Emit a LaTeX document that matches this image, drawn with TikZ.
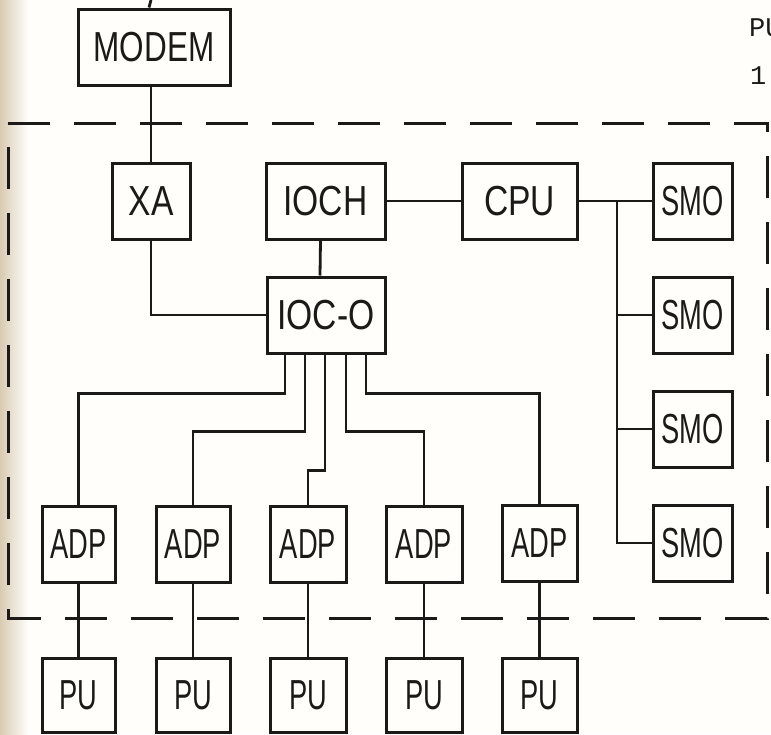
\documentclass[tikz,border=0pt]{standalone}
\usepackage{fontspec}
\setmainfont{Liberation Sans}
\newfontfamily\handfont[FakeStretch=0.8]{Liberation Sans}
\newfontfamily\narrowfont[FakeStretch=0.65]{Liberation Sans}
\newfontfamily\modemfont[FakeStretch=0.75]{Liberation Sans}
\newfontfamily\typefont{Liberation Mono}
\usetikzlibrary{calc}
\definecolor{ink}{HTML}{1C1A18}
\definecolor{paper}{HTML}{FFFEFB}
\definecolor{scan}{HTML}{D9CBB2}
\begin{document}
\begin{tikzpicture}[x=1pt,y=-1pt,
  box/.style={draw=ink,line width=3pt,rectangle,inner sep=0pt,
    font=\handfont\fontsize{42}{44}\selectfont,text=ink},
  narrowbox/.style={box,font=\narrowfont\fontsize{42}{44}\selectfont},
  wire/.style={draw=ink,line width=2.8pt},
  frame/.style={draw=ink,line width=3pt,dash pattern=on 42pt off 24pt},
  typed/.style={font=\typefont\fontsize{27}{29}\selectfont,text=ink,inner sep=0pt}]
\useasboundingbox (0,0) rectangle (771,734);
\fill[paper] (0,0) rectangle (771,734);
\shade[left color=scan,right color=paper] (0,0) rectangle (28,734);
\clip (0,0) rectangle (771,734);

% dashed enclosure
\draw[frame] (8,123) -- (767,123) -- (767,618) -- (8,618) -- cycle;

% boxes
\node[box,minimum width=152pt,minimum height=76pt,font=\modemfont\fontsize{42}{44}\selectfont] (MODEM) at (154,47) {MODEM};
\node[box,minimum width=78pt,minimum height=76pt] (XA) at (151,201) {XA};
\node[box,minimum width=119pt,minimum height=76pt] (IOCH) at (325.5,201) {IOCH};
\node[box,minimum width=115pt,minimum height=76pt] (CPU) at (519.5,201) {CPU};
\node[narrowbox,minimum width=79pt,minimum height=76pt] (SMO1) at (692.5,201) {SMO};
\node[narrowbox,minimum width=79pt,minimum height=76pt] (SMO2) at (692.5,315) {SMO};
\node[narrowbox,minimum width=79pt,minimum height=76pt] (SMO3) at (692.5,429) {SMO};
\node[narrowbox,minimum width=79pt,minimum height=76pt] (SMO4) at (692.5,543) {SMO};
\node[box,minimum width=118pt,minimum height=76pt] (IOCO) at (326,315) {IOC-O};

\node[narrowbox,minimum width=73pt,minimum height=76pt] (ADP1) at (78.5,544) {ADP};
\node[narrowbox,minimum width=74pt,minimum height=76pt] (ADP2) at (193,544) {ADP};
\node[narrowbox,minimum width=76pt,minimum height=76pt] (ADP3) at (308,544) {ADP};
\node[narrowbox,minimum width=76pt,minimum height=76pt] (ADP4) at (424,544) {ADP};
\node[narrowbox,minimum width=75pt,minimum height=76pt] (ADP5) at (539.5,543) {ADP};

\node[narrowbox,minimum width=73pt,minimum height=74pt] (PU1) at (78.5,695) {PU};
\node[narrowbox,minimum width=74pt,minimum height=74pt] (PU2) at (193,695) {PU};
\node[narrowbox,minimum width=76pt,minimum height=74pt] (PU3) at (308,695) {PU};
\node[narrowbox,minimum width=76pt,minimum height=74pt] (PU4) at (424,695) {PU};
\node[narrowbox,minimum width=75pt,minimum height=74pt] (PU5) at (539.5,695) {PU};

% typed page text (top right)
\node[typed,anchor=base west] (pg) at (749,36) {PU};
\node[typed,anchor=base west] (num) at (750,84) {1};

% connectors
\coordinate (line) at (151,0);
\draw[wire] (line) -- ([xshift=-5pt]MODEM.north);
\draw[wire] (MODEM.south -| XA.north) -- (XA.north);
\draw[wire] (XA.south) |- (IOCO.west);
\draw[wire] ([xshift=-5pt]IOCH.south) -- ([xshift=-6pt]IOCO.north);
\draw[wire] (IOCH.east) -- (CPU.west);
\draw[wire] (CPU.east) -- (SMO1.west);
\coordinate (bus) at (617,201);
\draw[wire] (bus) |- (SMO4.west);
\draw[wire] (bus |- SMO2.west) -- (SMO2.west);
\draw[wire] (bus |- SMO3.west) -- (SMO3.west);

\draw[wire] ([xshift=-41pt]IOCO.south) -- ++(0,39) -| (ADP1.north);
\draw[wire] ([xshift=-21pt]IOCO.south) -- ++(0,77) -| (ADP2.north);
\draw[wire] ([xshift=-1pt]IOCO.south) -- ++(0,116) -| (ADP3.north);
\draw[wire] ([xshift=20pt]IOCO.south) -- ++(0,77) -| (ADP4.north);
\draw[wire] ([xshift=40pt]IOCO.south) -- ++(0,39) -| (ADP5.north);

\foreach \i in {1,...,5}{\draw[wire] (ADP\i.south) -- (PU\i.north);}
\end{tikzpicture}
\end{document}
